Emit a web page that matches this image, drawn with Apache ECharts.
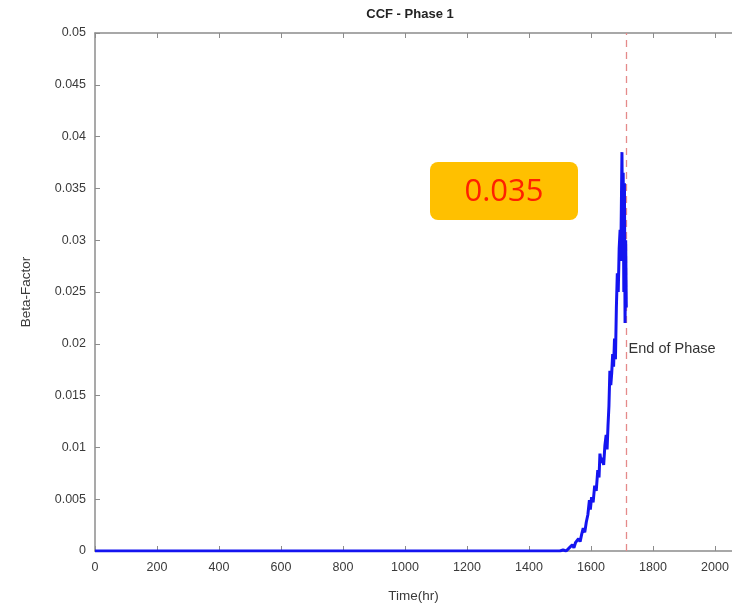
<!DOCTYPE html>
<html>
<head>
<meta charset="utf-8">
<script src="https://cdn.jsdelivr.net/npm/echarts@6/dist/echarts.min.js"></script>
<style>
  html, body { margin: 0; padding: 0; background: #fff; }
  #chart { width: 732px; height: 609px; }
</style>
</head>
<body>
<div id="chart"></div>
<script>
// time (hr) and beta-factor samples
var timeHr = [0, 1500, 1510, 1520, 1530, 1540, 1545, 1550, 1560, 1565, 1570, 1575, 1580, 1585, 1590, 1595,
  1598, 1602, 1607, 1612, 1617, 1622, 1626, 1629, 1633, 1637, 1641, 1645, 1649, 1652, 1655, 1658, 1661,
  1664, 1667, 1670, 1673, 1676, 1679, 1682, 1685, 1688, 1691, 1694, 1696, 1698, 1700, 1702, 1704, 1706,
  1708, 1710, 1712, 1714];
var beta = [0, 0, 0.0001, 0, 0.0003, 0.0006, 0.0003, 0.0008, 0.0012, 0.0009, 0.0016, 0.0022, 0.0018, 0.0028,
  0.0035, 0.0049, 0.0040, 0.0052, 0.0047, 0.0063, 0.0058, 0.0078, 0.0071, 0.0094, 0.0085, 0.0090, 0.0083,
  0.0102, 0.0112, 0.0098, 0.0121, 0.0140, 0.0174, 0.0160, 0.0172, 0.0190, 0.0178, 0.0205, 0.0185, 0.0235,
  0.0268, 0.0250, 0.0292, 0.0310, 0.0280, 0.0330, 0.0385, 0.0300, 0.0365, 0.0250, 0.0355, 0.0220, 0.0300,
  0.0235];

var endOfPhase = 1715;
var endLabelY = 0.0195;
var calloutText = '0.035';

// the original figure is cropped on the right, just past 2000
var xTicks = { min: 0, max: 2055, interval: 200 };
var yTicks = { min: 0, max: 0.05, interval: 0.005 };

var chart = echarts.init(document.getElementById('chart'));

var seriesData = timeHr.map(function (t, i) { return [t, beta[i]]; });

var axisGray = '#8c8c8c';
var labelStyle = { color: '#3a3a3a', fontSize: 12.5, fontFamily: 'Liberation Sans, Arial, sans-serif' };

var option = {
  animation: false,
  backgroundColor: '#fff',
  title: {
    text: 'CCF - Phase 1',
    left: 405,
    textAlign: 'center',
    top: 3,
    textStyle: { fontSize: 13, fontWeight: 'bold', color: '#222', fontFamily: 'Liberation Sans, Arial, sans-serif' }
  },
  grid: { left: 95, top: 33, right: 0, height: 518 },
  xAxis: [{
    type: 'value',
    min: xTicks.min, max: xTicks.max, interval: xTicks.interval,
    name: 'Time(hr)',
    nameLocation: 'middle',
    nameGap: 38,
    nameTextStyle: { color: '#3a3a3a', fontSize: 13.5, fontFamily: 'Liberation Sans, Arial, sans-serif' },
    axisLine: { lineStyle: { color: axisGray, width: 1.5 } },
    axisTick: { inside: true, length: 5, lineStyle: { color: axisGray } },
    axisLabel: Object.assign({ margin: 10, showMaxLabel: false, formatter: function (v) { return String(v); } }, labelStyle),
    splitLine: { show: false }
  }, {
    type: 'value',
    position: 'top',
    min: xTicks.min, max: xTicks.max, interval: xTicks.interval,
    axisLine: { lineStyle: { color: axisGray, width: 1.5 } },
    axisTick: { inside: true, length: 5, lineStyle: { color: axisGray } },
    axisLabel: { show: false },
    splitLine: { show: false }
  }],
  yAxis: {
    type: 'value',
    min: yTicks.min, max: yTicks.max, interval: yTicks.interval,
    name: 'Beta-Factor',
    nameLocation: 'middle',
    nameGap: 62,
    nameTextStyle: { color: '#3a3a3a', fontSize: 13.5, fontFamily: 'Liberation Sans, Arial, sans-serif' },
    axisLine: { show: true, lineStyle: { color: axisGray, width: 1.5 } },
    axisTick: { show: true, inside: true, length: 5, lineStyle: { color: axisGray } },
    axisLabel: Object.assign({ margin: 9 }, labelStyle),
    splitLine: { show: false }
  },
  series: [{
    type: 'line',
    data: seriesData,
    showSymbol: false,
    z: 5,
    lineStyle: { color: '#1414f0', width: 3 },
    markLine: {
      silent: true,
      symbol: 'none',
      label: { show: false },
      lineStyle: { color: '#e58a8a', type: [7, 5], width: 1.3 },
      data: [{ xAxis: endOfPhase }]
    },
    markPoint: {
      symbol: 'circle',
      symbolSize: 0,
      data: [{ coord: [endOfPhase, endLabelY], value: 'End of Phase' }],
      label: {
        show: true,
        position: 'right',
        distance: 2,
        formatter: 'End of Phase',
        color: '#333',
        fontSize: 14.5,
        fontFamily: 'Liberation Sans Narrow, Arial Narrow, sans-serif'
      }
    }
  }],
  graphic: [{
    type: 'group',
    left: 430,
    top: 162,
    children: [{
      type: 'rect',
      shape: { x: 0, y: 0, width: 148, height: 58, r: 8 },
      style: { fill: '#ffc000' }
    }, {
      type: 'text',
      x: 74, y: 30,
      style: {
        text: calloutText,
        fill: '#ff2000',
        fontSize: 31,
        fontFamily: 'Open Sans, Liberation Sans, sans-serif',
        align: 'center',
        verticalAlign: 'middle'
      }
    }]
  }]
};

chart.setOption(option);
</script>
</body>
</html>
